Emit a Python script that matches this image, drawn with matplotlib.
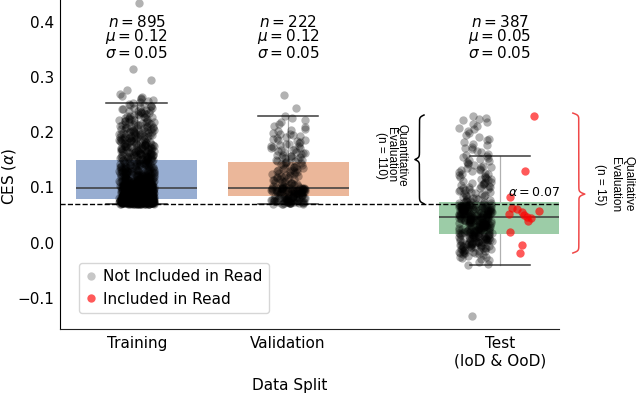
import numpy as np
import matplotlib
matplotlib.use('Agg')
import matplotlib.pyplot as plt
from matplotlib.lines import Line2D

# ---------------- data ----------------
categories = ['Training', 'Validation', 'Test\n(IoD & OoD)']
cat_pos = [0.0, 1.0, 2.4]
box_colors = ['#4C72B0', '#DD8452', '#55A868']

bin_width = 0.01
# histogram counts per 0.01 bin (estimated density of the strip points)
train_bin_start = 0.07
train_counts = [239, 125, 95, 65, 50, 40, 32, 28, 32, 30, 27, 24, 22, 20, 16, 14, 12, 10, 6, 4, 0]
train_extra = [0.276, 0.294, 0.314, 0.433]

val_bin_start = 0.07
val_counts = [42, 27, 45, 13, 11, 11, 11, 10, 10, 9, 8, 7, 6, 4, 3, 3]
val_extra = [0.243, 0.268]

test_bin_start = -0.04
test_counts = [3, 7, 16, 22, 26, 29, 29, 31, 35, 36, 38,
               12, 9, 10, 10, 8, 7, 7, 6, 5, 4, 4, 3, 3, 3, 3, 4]
test_extra = [-0.041, -0.132]
# "Included in Read" points (test split)
test_read = [0.229, 0.130, 0.082, 0.063, 0.061, 0.058, 0.055, 0.052, 0.050,
             0.047, 0.045, 0.039, 0.020, -0.004, -0.018]

stats_n = [895, 222, 387]
stats_mu = [0.12, 0.12, 0.05]
stats_sigma = [0.05, 0.05, 0.05]
alpha_threshold = 0.07
quant_n = 110
qual_n = 15
legend_labels = ['Not Included in Read', 'Included in Read']


def expand(start, counts, extra):
    vals = []
    for i, c in enumerate(counts):
        lo = start + i * bin_width
        vals += [lo + (k + 0.5) / c * bin_width for k in range(c)]
    return np.sort(np.array(vals + list(extra)))


def jitter(n, seed):
    # deterministic hash-based horizontal spread (layout only)
    i = np.arange(n, dtype=float) + 1.0
    v = np.sin(i * 12.9898 + seed * 78.233) * 43758.5453
    return (v - np.floor(v)) * 2 - 1


train_vals = expand(train_bin_start, train_counts, train_extra)
val_vals = expand(val_bin_start, val_counts, val_extra)
test_gray = expand(test_bin_start, test_counts, test_extra)
test_red = np.array(test_read)
test_all = np.concatenate([test_gray, test_red])

fig = plt.figure(figsize=(6.4, 3.98), dpi=100)
ax = fig.add_axes([60 / 640, 69 / 398, 499 / 640, 329 / 398])

# boxes
bp = ax.boxplot([train_vals, val_vals, test_all], positions=cat_pos, widths=0.8,
                patch_artist=True, showfliers=False, whis=1.5,
                medianprops=dict(color='#3a3a3a', lw=1.1),
                whiskerprops=dict(color='#b0b0b0', lw=0.9),
                capprops=dict(color='#3a3a3a', lw=1.1),
                capwidths=0.4, zorder=1)
for patch, col in zip(bp['boxes'], box_colors):
    patch.set_facecolor(col)
    patch.set_alpha(0.58)
    patch.set_edgecolor('none')

# strip points
pt_s = 36
pt_alpha = 0.3
ax.scatter(cat_pos[0] + 0.115 * jitter(len(train_vals), 1), train_vals, s=pt_s, c='black',
           alpha=pt_alpha, linewidths=0, zorder=3)
ax.scatter(cat_pos[1] + 0.115 * jitter(len(val_vals), 2), val_vals, s=pt_s, c='black',
           alpha=pt_alpha, linewidths=0, zorder=3)
ax.scatter(cat_pos[2] - 0.165 + 0.11 * jitter(len(test_gray), 3), test_gray, s=pt_s,
           c='black', alpha=pt_alpha, linewidths=0, zorder=3)
ax.scatter(cat_pos[2] + 0.16 + 0.10 * jitter(len(test_red), 4), test_red, s=pt_s,
           c='#ff0000', alpha=0.65, linewidths=0, zorder=4)

# threshold
ax.axhline(alpha_threshold, color='black', ls='--', lw=1.0, zorder=5)
ax.text(2.455, 0.09, r'$\alpha = %.2f$' % alpha_threshold, fontsize=9,
        ha='left', va='center', zorder=6)

# stats text
for pos, n, mu, sg in zip(cat_pos, stats_n, stats_mu, stats_sigma):
    ax.text(pos, 0.372, '$n = %d$\n$\\mu = %.2f$\n$\\sigma = %.2f$' % (n, mu, sg),
            ha='center', va='center', fontsize=11, linespacing=0.85)


def brace(x_body, y_lo, y_hi, y_tip, depth, color, beta=520, lw=1.1):
    ya = np.linspace(y_lo, y_tip, 300)
    ha = 1 / (1 + np.exp(-beta * (ya - y_lo))) + 1 / (1 + np.exp(-beta * (ya - y_tip)))
    yb = np.linspace(y_tip, y_hi, 300)
    hb = 1 / (1 + np.exp(beta * (yb - y_hi))) + 1 / (1 + np.exp(beta * (yb - y_tip)))
    y = np.concatenate([ya, yb])
    h = np.concatenate([ha, hb])
    ax.plot(x_body + depth * (h - 1), y, color=color, lw=lw, clip_on=False, zorder=6)


brace(1.868, 0.0705, 0.231, 0.1505, -0.06, 'black')
brace(2.921, -0.0186, 0.2345, 0.088, 0.079, '#f04848')

ax.text(1.68, 0.1586, 'Quantitative\nEvaluation\n(n = %d)' % quant_n, rotation=-90,
        ha='center', va='center', multialignment='center', fontsize=8.5,
        family='Liberation Sans', linespacing=0.8)
ax.text(3.158, 0.106, 'Qualitative\nEvaluation\n(n = %d)' % qual_n, rotation=-90,
        ha='center', va='center', multialignment='center', fontsize=8.5,
        family='Liberation Sans', linespacing=1.25, clip_on=False)

# axes styling
ax.set_xlim(-0.507, 2.79)
ax.set_ylim(-0.156, 0.439)
ax.set_xticks(cat_pos)
ax.set_xticklabels(categories, fontsize=11)
ax.set_yticks([-0.1, 0.0, 0.1, 0.2, 0.3, 0.4])
ax.tick_params(axis='both', length=0, labelsize=11)
ax.tick_params(axis='x', pad=5)
ax.tick_params(axis='y', pad=4)
for s in ['top', 'right']:
    ax.spines[s].set_visible(False)
ax.spines['left'].set_color('black')
ax.spines['bottom'].set_color('#222222')

fig.text(9 / 640, 1 - 176 / 398, r'CES ($\alpha$)', fontsize=11, rotation=90,
         ha='center', va='center')
ax.set_xlabel('Data Split', fontsize=11)
ax.xaxis.set_label_coords(0.461, -0.148)

handles = [Line2D([], [], ls='', marker='o', color='black', alpha=0.22, markersize=6, markeredgewidth=0),
           Line2D([], [], ls='', marker='o', color='#ff0000', alpha=0.65, markersize=6, markeredgewidth=0)]
ax.legend(handles, legend_labels, loc='lower left', bbox_to_anchor=(0.038, 0.049),
          borderaxespad=0, fontsize=11, handlelength=0.8, handletextpad=0.4)

fig.savefig('out.png', dpi=100)
